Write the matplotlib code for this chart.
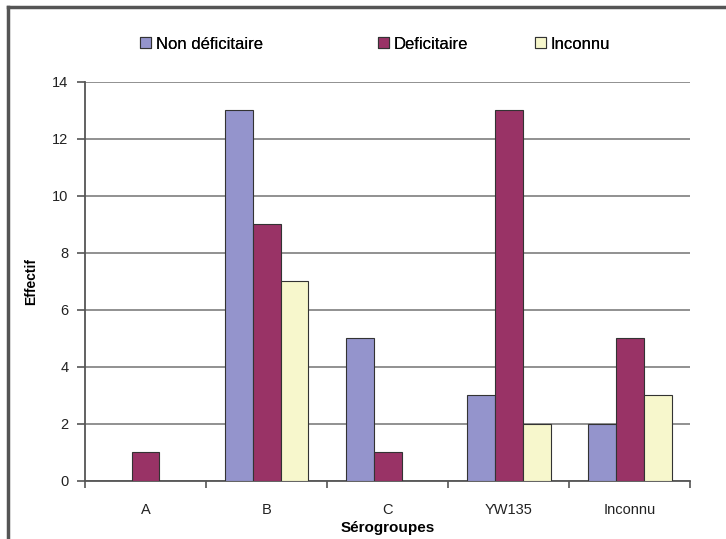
import numpy as np
import matplotlib.pyplot as plt
from matplotlib.lines import Line2D
from matplotlib.patches import Patch

plt.rcParams['font.family'] = ['Liberation Sans', 'DejaVu Sans']

categories = ['A', 'B', 'C', 'YW135', 'Inconnu']
non_deficitaire = [0, 13, 5, 3, 2]
deficitaire = [1, 9, 1, 13, 5]
inconnu = [0, 7, 0, 2, 3]
series_names = ['Non déficitaire', 'Deficitaire', 'Inconnu']
couleurs = ['#9494cc', '#993366', '#f7f7cc']

fig = plt.figure(figsize=(7.26, 5.39), dpi=100)
ax = fig.add_axes([0.117, 0.108, 0.834, 0.740])

x = np.arange(len(categories))
w = 0.23
for i, (vals, nom, c) in enumerate(zip([non_deficitaire, deficitaire, inconnu], series_names, couleurs)):
    v = np.array(vals, dtype=float)
    mask = v > 0
    ax.bar(x[mask] + (i - 1) * w, v[mask], w, color=c, edgecolor='#333333',
           linewidth=0.8, label=nom, zorder=3)

ax.set_xlim(-0.5, len(categories) - 0.5)
ax.set_ylim(0, 14)
ax.set_yticks(np.arange(0, 15, 2))
ax.yaxis.grid(True, color='#888888', linewidth=1.3, zorder=0)
for s in ['top', 'right']:
    ax.spines[s].set_visible(False)
for s in ['left', 'bottom']:
    ax.spines[s].set_color('#555555')
    ax.spines[s].set_linewidth(1.3)

ax.set_xticks(x)
ax.set_xticklabels(categories, fontsize=10.5, color='#222222')
ax.tick_params(axis='x', length=0, pad=16)
ax.set_xticks(np.arange(-0.5, len(categories)), minor=True)
ax.tick_params(axis='x', which='minor', length=5, direction='out', color='#555555', width=1.2)
ax.tick_params(axis='y', length=6, direction='out', color='#555555', width=1.2,
               labelsize=10.5, labelcolor='#222222', pad=6)

ax.set_xlabel('Sérogroupes', fontsize=11, fontweight='bold', labelpad=3)
ax.set_ylabel('Effectif', fontsize=10, fontweight='bold', labelpad=10)

# legende : une entree par position, comme dans Excel
leg_x = [0.193, 0.521, 0.737]
for nom, c, lx in zip(series_names, couleurs, leg_x):
    p = Patch(facecolor=c, edgecolor='#333333', linewidth=0.8)
    leg = fig.legend(handles=[p], labels=[nom], loc='center left',
                     bbox_to_anchor=(lx, 0.918), frameon=False, fontsize=12,
                     handlelength=0.65, handleheight=0.65, handletextpad=0.3,
                     borderpad=0, borderaxespad=0)
    fig.add_artist(leg)

# cadre gris en haut et a gauche
fig.add_artist(Line2D([0.011, 0.011], [0, 0.987], transform=fig.transFigure,
                      color='#555555', linewidth=2.5))
fig.add_artist(Line2D([0.011, 1.0], [0.987, 0.987], transform=fig.transFigure,
                      color='#555555', linewidth=2.5))

plt.savefig('out.png', dpi=100)
